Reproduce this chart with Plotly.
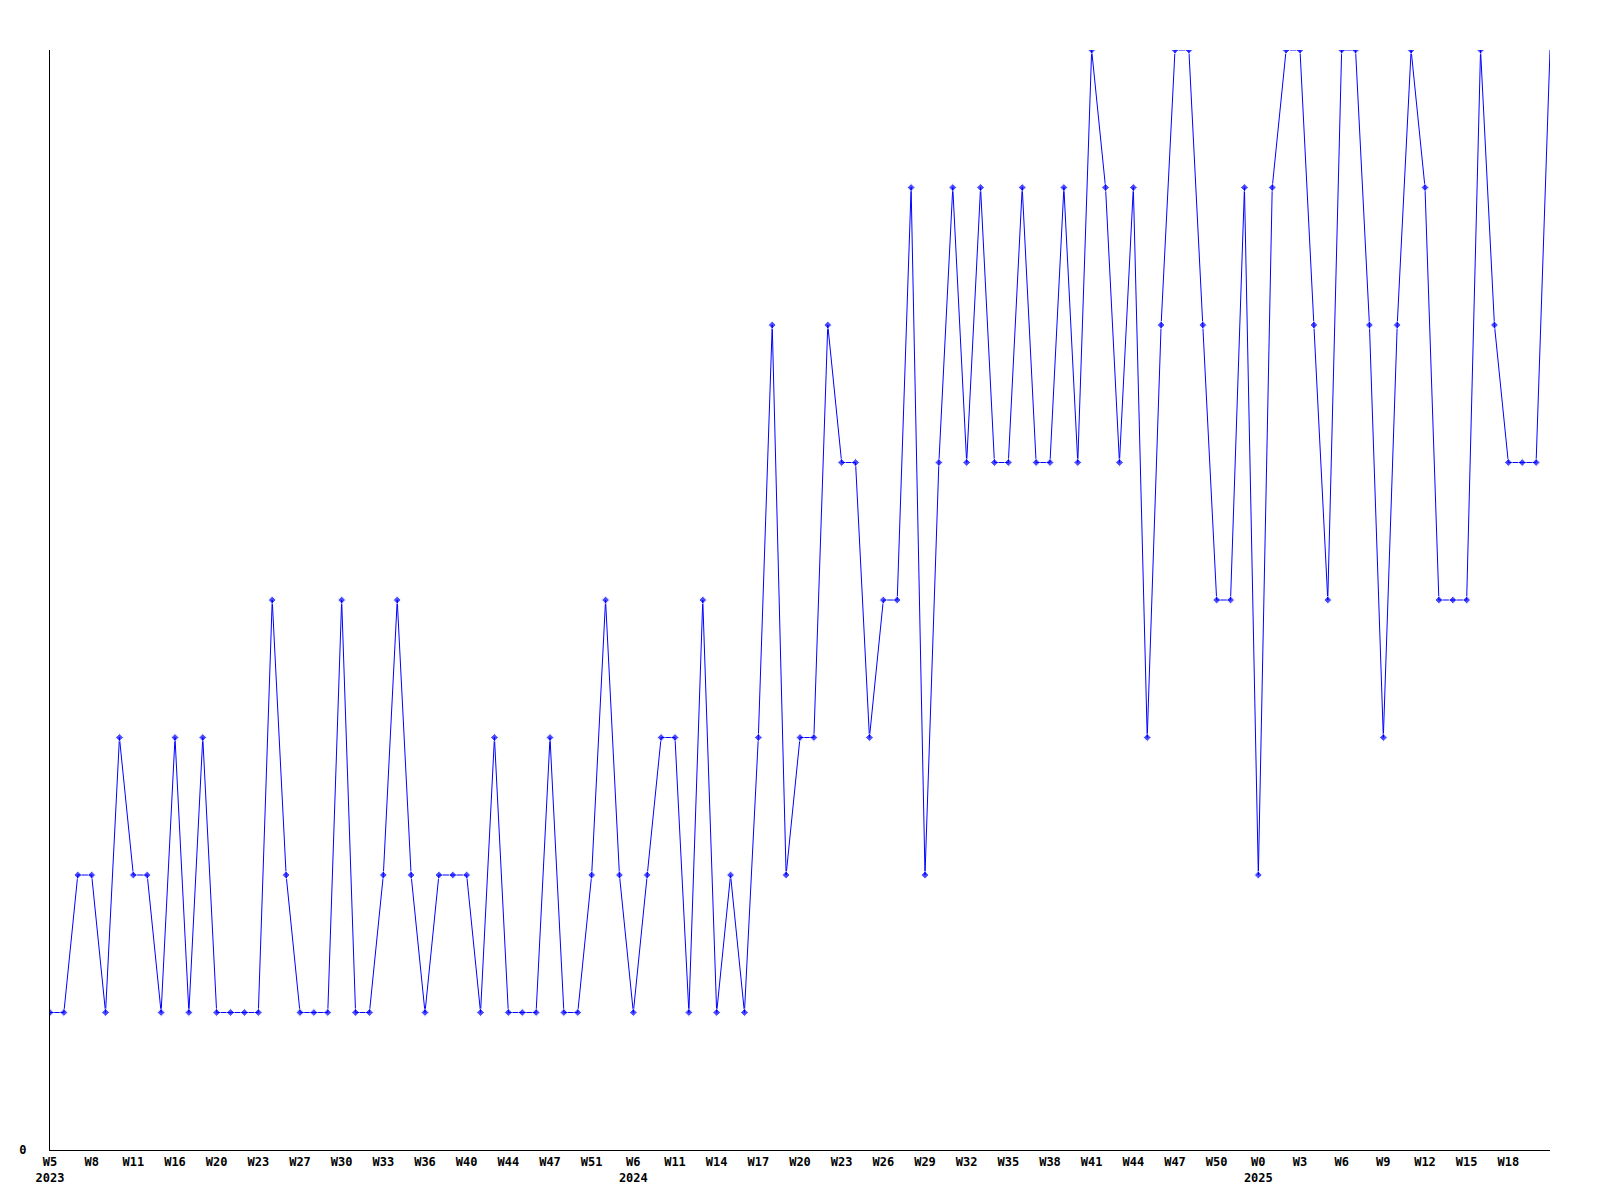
import plotly.graph_objects as go

# Values per week (levels)
values = [
    1, 1, 2, 2, 1, 3, 2, 2, 1, 3,
    1, 3, 1, 1, 1, 1, 4, 2, 1, 1,
    1, 4, 1, 1, 2, 4, 2, 1, 2, 2,
    2, 1, 3, 1, 1, 1, 3, 1, 1, 2,
    4, 2, 1, 2, 3, 3, 1, 4, 1, 2,
    1, 3, 6, 2, 3, 3, 6, 5, 5, 3,
    4, 4, 7, 2, 5, 7, 5, 7, 5, 5,
    7, 5, 5, 7, 5, 8, 7, 5, 7, 3,
    6, 8, 8, 6, 4, 4, 7, 2, 7, 8,
    8, 6, 4, 8, 8, 6, 3, 6, 8, 7,
    4, 4, 4, 8, 6, 5, 5, 5, 8,
]

tick_labels = [
    "W5<br>2023", "W8", "W11", "W16", "W20", "W23", "W27", "W30", "W33", "W36",
    "W40", "W44", "W47", "W51", "W6<br>2024", "W11", "W14", "W17", "W20", "W23",
    "W26", "W29", "W32", "W35", "W38", "W41", "W44", "W47", "W50", "W0<br>2025",
    "W3", "W6", "W9", "W12", "W15", "W18",
]
tick_step = 3

x = list(range(len(values)))
tickvals = [i * tick_step for i in range(len(tick_labels))]
marker_sizes = [6] * (len(values) - 1) + [0]

fig = go.Figure()
fig.add_trace(go.Scatter(
    x=x, y=values,
    mode="lines+markers",
    line=dict(color="#0000ff", width=1),
    marker=dict(symbol="diamond", size=marker_sizes, color="#0000ff"),
    hoverinfo="skip",
    showlegend=False,
))

font = dict(family="DejaVu Sans Mono", size=12, color="#000000", weight="bold")

fig.update_layout(
    width=1592, height=1192,
    margin=dict(l=42, r=50, t=42, b=50, autoexpand=False),
    paper_bgcolor="#ffffff",
    plot_bgcolor="#ffffff",
    font=font,
    xaxis=dict(
        range=[0, len(values) - 1],
        tickmode="array",
        tickvals=tickvals,
        ticktext=tick_labels,
        tickfont=font,
        showgrid=False,
        zeroline=False,
        showline=True,
        linecolor="#000000",
        linewidth=1,
        ticks="",
        ticklabelstandoff=1,
        automargin=False,
    ),
    yaxis=dict(
        range=[0, 8],
        tickmode="array",
        tickvals=[0],
        ticktext=["0"],
        tickfont=font,
        showgrid=False,
        zeroline=False,
        showline=True,
        linecolor="#000000",
        linewidth=1,
        ticks="",
        ticklabelstandoff=20,
        automargin=False,
    ),
)

fig.write_html("out.html")
